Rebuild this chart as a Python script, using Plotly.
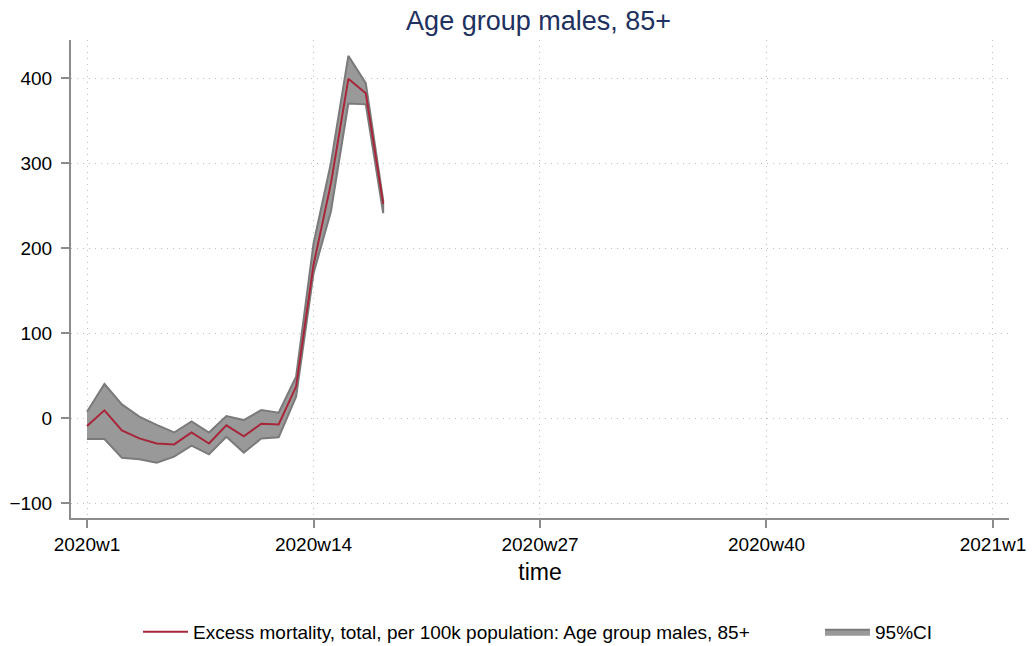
import plotly.graph_objects as go

# Weekly data, 2020w1 .. 2020w18
weeks = list(range(1, 19))
excess = [-9.4, 9, -14.5, -24, -30, -31, -17, -30, -8.6, -21.6, -6.7, -7.5, 37,
          180, 276, 399, 382, 252]
ci_upper = [7.4, 40, 16, 1.6, -8, -17, -4, -17, 2.4, -2.4, 9.4, 6.3, 48.6,
            205, 300, 426, 394, 256]
ci_lower = [-24.7, -24.7, -46.7, -48.6, -52.5, -45.5, -32.5, -42.7, -22, -40.8, -24, -22.7, 25,
            170, 243, 370, 369, 241]

tick_vals = [1, 14, 27, 40, 53]
tick_text = ['2020w1', '2020w14', '2020w27', '2020w40', '2021w1']
y_ticks = [-100, 0, 100, 200, 300, 400]
y_text = ['\u2212100', '0', '100', '200', '300', '400']
title_text = 'Age group males, 85+'
line_name = 'Excess mortality, total, per 100k population: Age group males, 85+'

fig = go.Figure()

# confidence band as closed polygon
fig.add_trace(go.Scatter(
    x=weeks + weeks[::-1],
    y=ci_upper + ci_lower[::-1],
    fill='toself',
    fillcolor='#999999',
    line=dict(color='#7a7a7a', width=2),
    mode='lines',
    name='95%CI',
    legend='legend2',
    hoverinfo='skip'
))

fig.add_trace(go.Scatter(
    x=weeks,
    y=excess,
    mode='lines',
    line=dict(color='#a8263a', width=2),
    name=line_name,
    legend='legend'
))

axis_common = dict(
    ticks='outside',
    ticklen=8,
    tickwidth=1.5,
    tickcolor='#8c8c8c',
    showline=True,
    linecolor='#8c8c8c',
    linewidth=2,
    showgrid=True,
    gridcolor='#bdbdbd',
    griddash='1px,5px',
    gridwidth=1,
    zeroline=False,
)

legend_common = dict(
    orientation='h',
    y=-0.2385, yanchor='middle',
    xanchor='left',
    itemwidth=45,
    font=dict(size=19),
    bgcolor='rgba(0,0,0,0)',
)

fig.update_layout(
    width=1036,
    height=646,
    showlegend=True,
    title=dict(text=title_text, x=0.4985, xref='paper', xanchor='center',
               y=0.968, yanchor='middle',
               font=dict(size=27, color='#1e3160')),
    font=dict(family='Liberation Sans, Arial, sans-serif', size=19, color='#000000'),
    xaxis=dict(
        range=[0.081, 53.92],
        tickmode='array',
        tickvals=tick_vals,
        ticktext=tick_text,
        title=dict(text='time', font=dict(size=23), standoff=10),
        **axis_common
    ),
    yaxis=dict(
        range=[-117.6, 444.7],
        tickmode='array',
        tickvals=y_ticks,
        ticktext=y_text,
        ticklabelstandoff=5,
        **axis_common
    ),
    legend=dict(x=0.0714, **legend_common),
    legend2=dict(x=0.7985, **legend_common),
    margin=dict(l=71, r=27, t=40, b=128, autoexpand=False),
    paper_bgcolor='white',
    plot_bgcolor='white',
)

# drop the default page margin so the figure sits at the window's corner
fig.write_html('out.html', config={'displayModeBar': False},
               post_script='document.body.style.margin = "0";')
